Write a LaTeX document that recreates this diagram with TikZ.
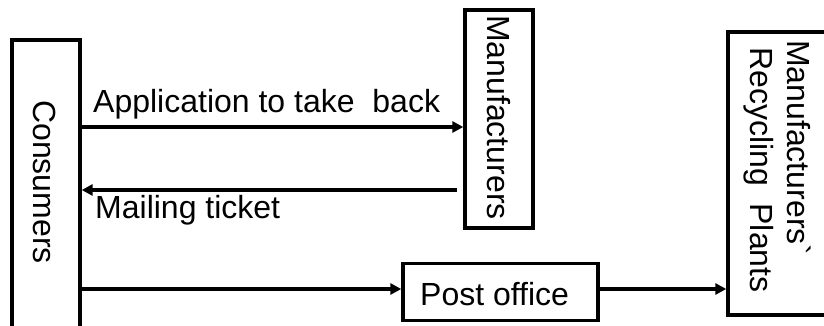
\documentclass[tikz,border=0pt]{standalone}
\usepackage{fontspec}
\setmainfont{Liberation Sans}
\usetikzlibrary{arrows.meta}
\begin{document}
\begin{tikzpicture}[x=1pt,y=-1pt,
  box/.style={draw, line width=3.4pt, inner sep=0pt},
  lbl/.style={font=\fontsize{32}{36}\selectfont, inner sep=0pt},
  vlbl/.style={lbl, rotate=-90, anchor=base west},
  arr/.style={line width=3.4pt, -{Triangle[length=11pt,width=11pt]}}]
\useasboundingbox (0,0) rectangle (824,326);
\clip (0,0) rectangle (824,326);
% boxes
\node[box, minimum width=68pt, minimum height=300pt] (cons) at (46,190) {};
\node[box, minimum width=68pt, minimum height=218pt] (manu) at (499,119) {};
\node[box, minimum width=106pt, minimum height=283pt] (recy) at (781,173.5) {};
\node[box, minimum width=195pt, minimum height=57pt] (post) at (500.5,292) {};
% box labels
\node[vlbl] (consl) at (33,100) {Consumers};
\node[vlbl] (manul) at (487,15) {Manufacturers};
\node[vlbl] (recyl1) at (787,40) {Manufacturers\textasciigrave};
\node[vlbl] (recyl2) at (750,47) {Recycling\ \ Plants};
\node[lbl, anchor=base west] (postl) at (420,305) {Post office};
% arrows
\coordinate (a1) at (cons.east |- 0,127);
\draw[arr] (a1) -- (manu.west |- a1);
\coordinate (m1) at (457,190);
\draw[arr] (m1) -- (cons.east |- m1);
\coordinate (b1) at (cons.east |- 0,289);
\draw[arr] (b1) -- (post.west |- b1);
\draw[arr] (post.east |- b1) -- (recy.west |- b1);
% arrow labels
\node[lbl, anchor=base west] (appl) at (93,113) {Application to take\ \ back};
\node[lbl, anchor=base west] (mail) at (95,218) {Mailing ticket};
\end{tikzpicture}
\end{document}
